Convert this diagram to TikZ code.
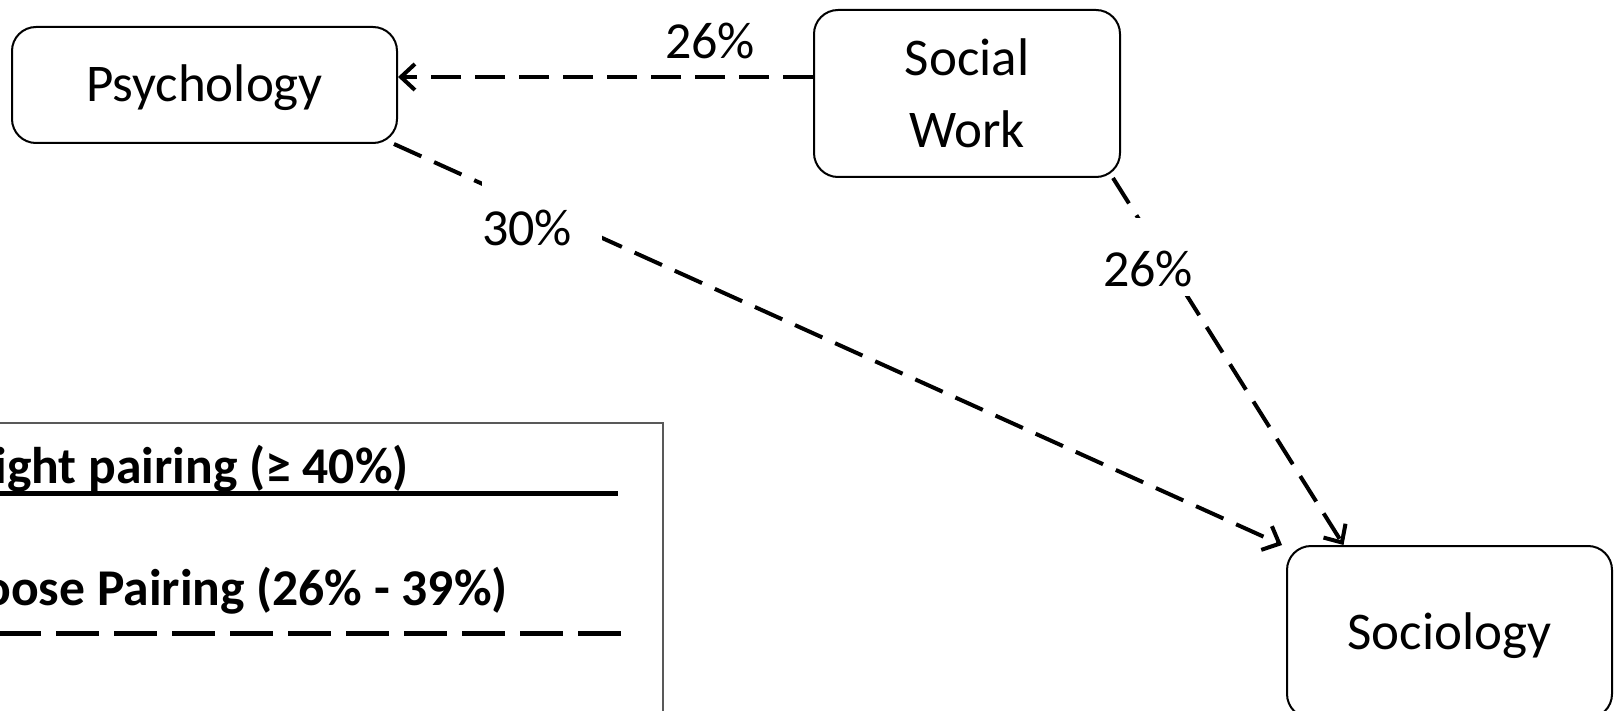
\documentclass[tikz,border=0pt]{standalone}
\usepackage{fontspec}
\setmainfont{Carlito}
\usetikzlibrary{arrows.meta}
\definecolor{legendgray}{RGB}{89,89,89}
\tikzstyle{area} = [rectangle,draw,line width=1pt,rounded corners=12pt,font=\fontsize{26.5}{36}\selectfont,align=center]

\begin{document}
\begin{tikzpicture}
		[
		x=0.5pt,y=-0.5pt,
		pairing/.style={
		line width=2pt,
		dash pattern=on 15pt off 7pt,
		-{Straight Barb[length=7pt,width=13pt]}},
		pct/.style={
		fill=white,
		inner sep=0pt,
		anchor=base west,
		text height=34pt,
		text depth=5pt,
		font=\fontsize{26}{36}\selectfont},
		key/.style={
		anchor=base east,
		inner sep=0pt,
		font=\fontsize{25.8}{30}\selectfont\bfseries}
		]
		\useasboundingbox (0,0) rectangle (1615,711);
		\clip (0,0) rectangle (1615,711);
		\node[area,minimum width=192.5pt,minimum height=58pt,text height=17pt,text depth=0pt] (psych) at (204.5,85) {Psychology};
		\node[area,minimum width=153pt,minimum height=83.5pt] (social) at (967,93.5) {Social\\Work};
		\node[area,minimum width=162.5pt,minimum height=86pt,text height=17pt,text depth=0pt] (socio) at (1449.5,632) {Sociology};
		\coordinate (swout) at ([yshift=8.25pt]social.west);
		\draw[pairing] (swout) -- (swout -| psych.east) node[pct] (swpsy) at (663,59) {26\%};
		\draw[pairing] ([xshift=-2pt]psych.south east) -- ([xshift=-2pt]socio.north west) node[pct,text width=60pt,align=left] (psysoc) at (480,245) {30\%};
		\draw[pairing] ([xshift=-4pt]social.south east) -- ([xshift=-53pt]socio.north) node[pct] (swsoc) at (1101,286) {26\%};
		\draw[legendgray,line width=1pt] (-40,423) rectangle (663,780);
		\node[key] (tight) at (409,483) {Tight pairing (≥ 40\%)};
		\node[key] (loose) at (508,605) {Loose Pairing (26\% - 39\%)};
		\draw[line width=2.5pt] (-40,493) -- (618,493);
		\draw[line width=2.5pt,dash pattern=on 21.5pt off 7.5pt] (-60,633) -- (621,633);
\end{tikzpicture}
\end{document}
